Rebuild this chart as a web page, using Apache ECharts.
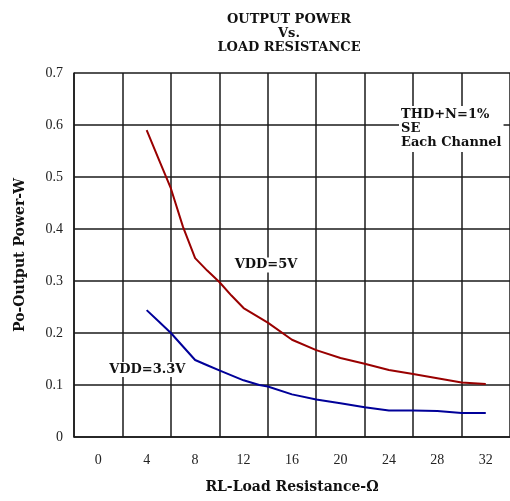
<!DOCTYPE html>
<html><head><meta charset="utf-8">
<script src="https://cdn.jsdelivr.net/npm/echarts@6/dist/echarts.min.js"></script>
<style>html,body{margin:0;padding:0;background:#fff}#c{width:510px;height:501px}</style>
</head><body><div id="c"></div>
<script>
var xLabels = ['0','4','8','12','16','20','24','28','32'];
var yMin = 0, yMax = 0.7, yStep = 0.1;
var vdd5 = [[4,0.59],[5,0.534],[6,0.478],[7,0.404],[8,0.344],[9,0.32],[10,0.298],[11,0.272],[12,0.248],[14,0.22],[16,0.187],[18,0.167],[20,0.152],[22,0.141],[24,0.129],[26,0.121],[28,0.113],[30,0.105],[32,0.102]];
var vdd33 = [[4,0.244],[5,0.222],[6,0.2],[7,0.174],[8,0.148],[9,0.138],[10,0.128],[12,0.109],[13.3,0.1],[14,0.097],[16,0.082],[18,0.072],[20,0.065],[22,0.057],[24,0.051],[26,0.051],[28,0.05],[30,0.046],[32,0.046]];
var titleText = 'OUTPUT POWER\nVs.\nLOAD RESISTANCE';
var noteText = 'THD+N=1%\nSE\nEach Channel';
var label5 = {text:'VDD=5V', at:[13.85,0.331]};
var label33 = {text:'VDD=3.3V', at:[4.05,0.13]};

var serif = '"Liberation Serif","DejaVu Serif",serif';
var bold = '"DejaVu Serif","Liberation Serif",serif';
var gridColor = '#1a1a1a';
var chart = echarts.init(document.getElementById('c'), null, {renderer:'canvas'});
chart.setOption({
  animation:false,
  backgroundColor:'#fff',
  title:{text:titleText, left:284, top:8, textAlign:'center',
    textStyle:{fontFamily:bold, fontWeight:'bold', fontSize:13, lineHeight:14, color:'#111'}},
  grid:{left:74, top:73, right:-2, bottom:64, containLabel:false},
  xAxis:[{
    type:'category', data:xLabels, boundaryGap:true, position:'bottom',
    name:'RL-Load Resistance-Ω', nameLocation:'middle', nameGap:43,
    nameTextStyle:{fontFamily:bold, fontWeight:'bold', fontSize:14, color:'#111'},
    axisLine:{show:true, onZero:false, lineStyle:{color:gridColor, width:1.5}},
    axisTick:{show:false},
    axisLabel:{margin:16, fontFamily:serif, fontSize:14, color:'#222', interval:0},
    splitLine:{show:true, interval:0, lineStyle:{color:gridColor, width:1.5}}
  },{
    type:'value', min:-2, max:34, show:false,
    axisLine:{show:false, onZero:false}, splitLine:{show:false}
  }],
  yAxis:{
    type:'value', min:yMin, max:yMax, interval:yStep,
    name:'Po-Output Power-W', nameLocation:'middle', nameGap:47,
    nameTextStyle:{fontFamily:bold, fontWeight:'bold', fontSize:14, color:'#111'},
    axisLine:{show:true, onZero:false, lineStyle:{color:gridColor, width:1.5}},
    axisTick:{show:false},
    axisLabel:{margin:11, fontFamily:serif, fontSize:14, color:'#222',
      formatter:function(v){return v===0?'0':v.toFixed(1);}},
    splitLine:{show:true, lineStyle:{color:gridColor, width:1.5}}
  },
  series:[{
    name:'VDD=5V', type:'line', xAxisIndex:1, data:vdd5, showSymbol:false, symbol:'none',
    lineStyle:{color:'#990000', width:2}, z:3
  },{
    name:'VDD=3.3V', type:'line', xAxisIndex:1, data:vdd33, showSymbol:false, symbol:'none',
    lineStyle:{color:'#000099', width:2}, z:3
  }]
});
function tagGraphic(l){
  var p = chart.convertToPixel({xAxisIndex:1, yAxisIndex:0}, l.at);
  return {type:'text', x:p[0], y:p[1], z:10,
    style:{text:l.text, fontFamily:bold, fontWeight:'bold', fontSize:13, fill:'#111',
      align:'center', verticalAlign:'middle', backgroundColor:'#fff', padding:[1,1]}};
}
chart.setOption({graphic:[
  tagGraphic(label5), tagGraphic(label33),
  {type:'text', x:399, y:106, z:10,
    style:{text:noteText, fontFamily:bold, fontWeight:'bold', fontSize:13, lineHeight:14, fill:'#111',
      backgroundColor:'#fff', padding:[2,2]}}
]});
</script></body></html>
